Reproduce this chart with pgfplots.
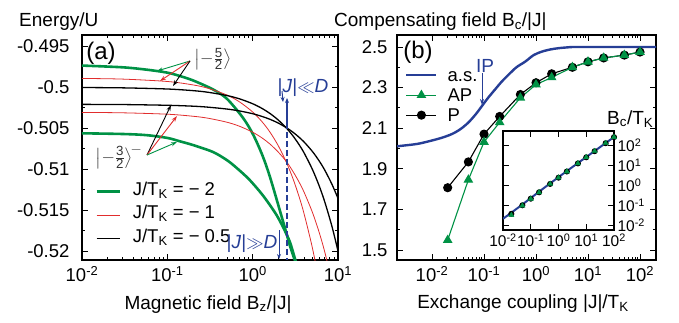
\documentclass[border=0pt]{standalone}
\usepackage{pgfplots}
\pgfplotsset{compat=1.18}
\usepackage{amsmath}
\usepackage{fontspec}
\setmainfont{Liberation Sans}
\usetikzlibrary{arrows.meta}
\definecolor{cgreen}{RGB}{0,146,69}
\definecolor{cred}{RGB}{225,45,45}
\definecolor{cblue}{RGB}{38,62,150}
\newcommand{\lab}{\fontsize{19}{22}\selectfont}
\newcommand{\tl}{\fontsize{18.5}{20}\selectfont}
\begin{document}
\begin{tikzpicture}[x=1pt,y=1pt]
\path[use as bounding box] (0,0) rectangle (679,322);
\pgfplotsset{every axis/.append style={scale only axis, anchor=south west,
  tick align=inside, major tick length=6pt, minor tick length=3pt,
  axis line style={line width=1.5pt}, tick style={black, line width=0.9pt},
  tick label style={font=\tl}}}
% ---------------- panel (a)
\begin{axis}[at={(82pt,62pt)}, width=256pt, height=225pt,
  xmode=log, xmin=0.01, xmax=10, ymin=-0.5211, ymax=-0.4936,
  xtick={0.01,0.1,1,10},
  xticklabels={10\textsuperscript{-2},10\textsuperscript{-1},10\textsuperscript{0},10\textsuperscript{1}},
  ytick={-0.52,-0.515,-0.51,-0.505,-0.5,-0.495},
  yticklabels={-0.52,-0.515,-0.51,-0.505,-0.5,-0.495},
  minor y tick num=1,
  yticklabel style={xshift=-9pt}, xticklabel style={yshift=-3pt},
  legend style={at={(0.051,0.350)}, anchor=north west, draw=none, fill=none,
    inner sep=0pt, row sep=3.5pt, column sep=11pt, font=\tl,
    nodes={inner sep=1pt, text height=13pt, text depth=5pt}},
  legend cell align=left,
  legend image code/.code={\draw[#1] (0pt,0pt) -- (23pt,0pt);}]
\addplot[cgreen, line width=2.6pt, smooth] coordinates {
(0.0097,-0.49733) (0.03,-0.49755) (0.0575,-0.49784) (0.1,-0.49820) (0.141,-0.49862)
(0.2,-0.49915) (0.343,-0.50025) (0.5,-0.50140) (0.776,-0.50377) (1.016,-0.50580)
(1.3,-0.50830) (1.59,-0.51090) (2.09,-0.51510) (2.5,-0.51790) (2.73,-0.51935)
(3.12,-0.52114)};
\addlegendentry{J/T\textsubscript{K} = − 2}
\addplot[cred, line width=0.8pt, smooth] coordinates {
(0.01,-0.49891) (0.03,-0.49899) (0.1,-0.49928) (0.2,-0.4997) (0.3,-0.50011)
(0.5,-0.50094) (0.7,-0.50177) (1,-0.50301) (1.3,-0.50425) (1.6,-0.50549)
(2,-0.50715) (2.5,-0.50922) (3,-0.51129) (3.5,-0.51336) (4,-0.51543)
(5,-0.51957) (6,-0.52371)};
\addlegendentry{J/T\textsubscript{K} = − 1}
\addplot[black, line width=1.3pt, smooth] coordinates {
(0.01,-0.50002) (0.03,-0.50006) (0.1,-0.5002) (0.2,-0.5004) (0.3,-0.5006)
(0.5,-0.501) (0.7,-0.5014) (1,-0.502) (1.3,-0.5026) (1.6,-0.5032) (2,-0.504)
(2.5,-0.505) (3,-0.506) (3.5,-0.507) (4,-0.508) (5,-0.51) (6,-0.512)
(7,-0.514) (8.5,-0.517) (10,-0.52)};
\addlegendentry{J/T\textsubscript{K} = − 0.5}
\addplot[cgreen, line width=2.6pt, smooth, forget plot] coordinates {
(0.0095,-0.50561) (0.03,-0.50570) (0.057,-0.50584) (0.1,-0.50618) (0.141,-0.50660)
(0.2,-0.50705) (0.343,-0.50790) (0.5,-0.50890) (0.65,-0.50985) (0.9,-0.51120)
(1.22,-0.51277) (1.5,-0.51400) (1.91,-0.51562) (2.3,-0.51720) (2.73,-0.51890)
(3.12,-0.52089) (3.4,-0.52220)};
\addplot[cred, line width=0.8pt, smooth, forget plot] coordinates {
(0.01,-0.50306) (0.03,-0.50311) (0.1,-0.50328) (0.2,-0.50353) (0.3,-0.50377)
(0.5,-0.50426) (0.7,-0.50475) (1,-0.50548) (1.3,-0.50621) (1.6,-0.50694)
(2,-0.50792) (2.5,-0.5091) (3,-0.51036) (3.5,-0.51158) (4,-0.5128)
(5,-0.51524) (6,-0.51768) (7,-0.52012) (8.5,-0.52378)};
\addplot[black, line width=1.3pt, smooth, forget plot] coordinates {
(0.01,-0.50208) (0.03,-0.5021) (0.1,-0.50219) (0.2,-0.5023) (0.3,-0.50242)
(0.5,-0.50265) (0.7,-0.50288) (1,-0.50322) (1.3,-0.50357) (1.6,-0.50391)
(2,-0.50437) (2.5,-0.50495) (3,-0.50552) (3.5,-0.5061) (4,-0.50667)
(5,-0.50782) (6,-0.50897) (7,-0.51012) (8.5,-0.51185) (10,-0.51357)};
\addplot[cblue, line width=2.2pt, dash pattern=on 6pt off 3pt, forget plot] coordinates {(2.5,-0.50435) (2.5,-0.5211)};
\end{axis}
% ---------------- panel (b)
\begin{axis}[at={(397pt,62pt)}, width=259pt, height=225pt,
  xmode=log, xmin=0.00212, xmax=203, ymin=1.451, ymax=2.559,
  xtick={0.01,0.1,1,10,100},
  xticklabels={10\textsuperscript{-2},10\textsuperscript{-1},10\textsuperscript{0},10\textsuperscript{1},10\textsuperscript{2}},
  ytick={1.5,1.7,1.9,2.1,2.3,2.5},
  yticklabels={1.5,1.7,1.9,2.1,2.3,2.5},
  minor y tick num=1,
  yticklabel style={xshift=-6pt}, xticklabel style={yshift=-3pt},
  legend style={at={(0.031,0.858)}, anchor=north west, draw=none, fill=none,
    inner sep=0pt, row sep=4pt, column sep=9pt, font=\tl,
    nodes={inner sep=1pt, text height=13pt, text depth=1pt}},
  legend cell align=left,
  legend image code/.code={\draw[mark repeat=2, mark phase=2, #1] plot coordinates {(0pt,0pt) (15pt,0pt) (30pt,0pt)};}]
\addlegendimage{cblue, line width=2.4pt}
\addlegendentry{a.s.}
\addlegendimage{cgreen, line width=1.1pt, mark=triangle*, mark size=4.5pt, mark options={solid}}
\addlegendentry{AP}
\addlegendimage{black, line width=1.1pt, mark=*, mark size=4pt}
\addlegendentry{P}
\addplot[cblue, line width=2.4pt, smooth, forget plot] coordinates {
(0.00212,2.011) (0.005,2.022) (0.0085,2.035) (0.015,2.052) (0.024,2.071)
(0.035,2.095) (0.05,2.128) (0.07,2.170) (0.091,2.209) (0.12,2.250)
(0.162,2.290) (0.22,2.330) (0.295,2.363) (0.42,2.400) (0.62,2.428)
(0.9,2.460) (1.29,2.477) (1.9,2.488) (2.7,2.494) (4,2.498) (5.6,2.5)
(20,2.5) (203,2.5)};
\addplot[black, line width=1.1pt, mark=*, mark size=4pt, forget plot] coordinates {
(0.02,1.807) (0.05,1.934) (0.1,2.071) (0.2,2.158) (0.5,2.266) (1,2.324)
(2,2.368) (5,2.400) (10,2.427) (20,2.446) (50,2.460) (100,2.475)};
\addplot[cgreen, line width=1.1pt, mark=triangle*, mark size=4.5pt, forget plot] coordinates {
(0.02,1.549) (0.05,1.846) (0.1,2.032) (0.2,2.129) (0.5,2.250) (1,2.315)
(2,2.350) (5,2.400) (10,2.427) (20,2.446) (50,2.460) (100,2.475)};
\end{axis}
% ---------------- inset
\begin{axis}[at={(503pt,92pt)}, width=111pt, height=99pt,
  xmode=log, ymode=log, xmin=0.01, xmax=100, ymin=0.00562, ymax=501,
  xtick={0.01,0.1,1,10,100}, ytick={0.01,0.1,1,10,100},
  xticklabels={10\textsuperscript{-2},10\textsuperscript{-1},10\textsuperscript{0},10\textsuperscript{1},10\textsuperscript{2}},
  yticklabels={10\textsuperscript{-2},10\textsuperscript{-1},10\textsuperscript{0},10\textsuperscript{1},10\textsuperscript{2}},
  yticklabel pos=right, xminorticks=false, yminorticks=false,
  tick label style={font=\fontsize{15.5}{17}\selectfont},
  axis background/.style={fill=white}]
\addplot[black, line width=0.8pt, mark=*, mark size=2.6pt, only marks] coordinates {
(0.02,0.0361) (0.05,0.0967) (0.1,0.2071) (0.2,0.4316) (0.5,1.133) (1,2.324)
(2,4.736) (5,12.0) (10,24.27) (20,48.92) (50,123) (100,247.5)};
\addplot[cgreen, mark=triangle*, mark size=3pt, only marks] coordinates {
(0.02,0.0310) (0.05,0.0923) (0.1,0.2032) (0.2,0.4258) (0.5,1.125) (1,2.315)
(2,4.70) (5,12.0) (10,24.27) (20,48.92) (50,123) (100,247.5)};
\addplot[cblue, line width=2pt] coordinates {
(0.01,0.0204) (0.024,0.0497) (0.05,0.1064) (0.091,0.201) (0.162,0.371)
(0.295,0.697) (0.62,1.505) (1.29,3.195) (2.7,6.734) (5.6,14.0) (20,50) (100,250)};
\end{axis}
% ---------------- texts
\node[anchor=base west, font=\lab, inner sep=0pt] at (19,295) {Energy/U};
\node[anchor=base west, font=\lab, inner sep=0pt] at (334,295) {Compensating field B\textsubscript{c}/|J|};
\node[anchor=base, font=\lab, inner sep=0pt] at (208,13) {Magnetic field B\textsubscript{z}/|J|};
\node[anchor=base, font=\lab, inner sep=0pt] at (523,14) {Exchange coupling |J|/T\textsubscript{K}};
\node[anchor=base west, font=\lab, inner sep=0pt] at (607,198) {B\textsubscript{c}/T\textsubscript{K}};
\node[font=\fontsize{24}{26}\selectfont, inner sep=0pt] at (101,269) {(a)};
\node[font=\fontsize{24}{26}\selectfont, inner sep=0pt] at (418,270) {(b)};
% state labels
\node[font=\lab, text=black!80, inner sep=0pt] at (213,263) {$\bigl|{-}\tfrac{\text{5}}{\text{2}}\bigr\rangle$};
\node[font=\lab, text=black!80, inner sep=0pt] at (119,165) {$\bigl|{-}\tfrac{\text{3}}{\text{2}}\bigr\rangle^{\!-}$};
\draw[cgreen, line width=0.9pt, -{Stealth[length=6pt,width=4pt]}] (190,261) -- (157,251);
\draw[cred, line width=0.9pt, -{Stealth[length=6pt,width=4pt]}] (190,261) -- (160,241);
\draw[black, line width=0.9pt, -{Stealth[length=6pt,width=4pt]}] (190,261) -- (173,236);
\draw[black, line width=0.9pt, -{Stealth[length=6pt,width=4pt]}] (147,167) -- (171,217);
\draw[cred, line width=0.9pt, -{Stealth[length=6pt,width=4pt]}] (147,167) -- (177,206);
\draw[cgreen, line width=0.9pt, -{Stealth[length=6pt,width=4pt]}] (147,167) -- (177,180);
% |J| << D and >> D
\node[font=\lab, text=cblue, inner sep=0pt] at (303,234) {|\textit{J}|$\ll$\textit{D}};
\draw[cblue, line width=1pt, -{Stealth[length=5pt,width=4pt]}] (282,231) -- (283,220);
\draw[cblue, line width=1.2pt, -{Stealth[length=5pt,width=4pt]}] (287,199) -- (287,224);
\node[font=\lab, text=cblue, inner sep=0pt] at (252,78) {|\textit{J}|$\gg$\textit{D}};
\draw[cblue, line width=1pt, -{Stealth[length=5pt,width=4pt]}] (279,92) -- (279,63);
% IP
\node[font=\lab, text=cblue, inner sep=0pt] at (485,256) {IP};
\draw[cblue, line width=1pt, -{Stealth[length=6pt,width=4pt]}] (482,249) -- (482,217);
\end{tikzpicture}
\end{document}
